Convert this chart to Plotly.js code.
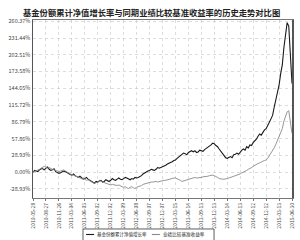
<!DOCTYPE html>
<html><head><meta charset="utf-8">
<script src="https://cdn.plot.ly/plotly-3.0.1.min.js"></script>
<style>html,body{margin:0;padding:0;background:#fff}#c{width:300px;height:240px}</style>
</head><body><div id="c"></div>
<script>
const chartTitle = "基金份额累计净值增长率与同期业绩比较基准收益率的历史走势对比图";
const tickLabels = ["2010-05-28","2010-08-27","2010-11-26","2011-03-04","2011-06-03","2011-09-02","2011-12-02","2012-03-09","2012-06-08","2012-09-07","2012-12-07","2013-03-15","2013-06-14","2013-09-13","2013-12-13","2014-03-14","2014-06-13","2014-09-12","2014-12-12","2015-03-13","2015-06-30"];
const fundGrowth = [0,3,2,1,4,6,6,4,7,9,5,3,4,6,1,0,-2,-1,0,2,1,-1,-2,-4,-5,-3,-6,-8,-9,-7,-10,-12,-11,-9,-12,-14,-16,-17,-19,-16,-17,-15,-14,-17,-16,-13,-15,-16,-14,-11,-13,-14,-12,-10,-12,-13,-11,-9,-10,-12,-13,-11,-12,-9,-10,-9,-8,-6,-3,-1,1,2,3,5,4,3,5,8,7,8,10,11,12,14,15,17,18,20,21,24,26,28,30,33,32,30,34,36,37,35,37,34,35,38,37,36,39,41,42,45,47,50,49,46,44,40,36,31,28,25,24,26,27,25,30,31,33,31,35,38,40,38,44,42,47,46,51,54,57,62,66,64,70,73,75,82,86,92,98,112,125,138,150,170,185,215,238,258,252,200,153];
const benchmark = [0,1,2,4,5,7,8,10,9,7,8,6,5,4,3,1,1,2,3,4,2,0,-2,-3,-4,-5,-6,-7,-8,-10,-11,-10,-12,-14,-13,-15,-17,-18,-19,-18,-17,-15,-15,-17,-18,-19,-20,-21,-22,-21,-22,-23,-23,-22,-24,-25,-26,-25,-27,-28,-26,-25,-27,-28,-26,-25,-25,-23,-21,-20,-19,-18,-18,-17,-17,-16,-16,-17,-16,-15,-15,-14,-14,-13,-12,-12,-11,-10,-10,-11,-12,-14,-16,-15,-14,-13,-12,-11,-10,-9,-9,-10,-10,-10,-9,-8,-8,-7,-7,-6,-5,-5,-6,-7,-9,-11,-12,-12,-12,-12,-11,-10,-9,-9,-8,-7,-6,-4,-3,-1,0,2,3,5,6,8,10,12,14,15,16,18,19,20,21,24,28,32,36,42,48,54,60,67,75,88,98,104,106,90,67];
const yTicks = [-28.93,0,28.93,57.86,86.79,115.72,144.65,173.58,202.51,231.44,260.37];
const names = ["基金份额累计净值增长率","业绩比较基准收益率"];
const colors = ['#1a1a1a', '#8a8a8a'];

const idx = fundGrowth.map((_, i) => i);
const step = (fundGrowth.length - 1) / (tickLabels.length - 1);
const tickvals = tickLabels.map((_, i) => i * step);

const traces = [
  {x: idx, y: fundGrowth, type: 'scatter', mode: 'lines', name: names[0], line: {color: colors[0], width: 1.1}},
  {x: idx, y: benchmark, type: 'scatter', mode: 'lines', name: names[1], line: {color: colors[1], width: 0.9}}
];

const legY = -0.205;
const shapes = [
  {type: 'rect', xref: 'paper', yref: 'paper', x0: 0.193, x1: 0.699, y0: -0.174, y1: -0.245, line: {color: '#333', width: 0.8}, fillcolor: '#fff'},
  {type: 'line', xref: 'paper', yref: 'paper', x0: 0.205, x1: 0.236, y0: legY, y1: legY, line: {color: colors[0], width: 1.1}},
  {type: 'line', xref: 'paper', yref: 'paper', x0: 0.459, x1: 0.490, y0: legY, y1: legY, line: {color: colors[1], width: 1.1}}
];
const annotations = [
  {xref: 'paper', yref: 'paper', x: 0.456, y: 1.045, xanchor: 'center', yanchor: 'middle', text: '<b>' + chartTitle + '</b>', showarrow: false, font: {size: 8.3, color: '#222'}},
  {xref: 'paper', yref: 'paper', x: 0.238, y: legY, xanchor: 'left', yanchor: 'middle', text: names[0], showarrow: false, font: {size: 4.5, color: '#222'}},
  {xref: 'paper', yref: 'paper', x: 0.494, y: legY, xanchor: 'left', yanchor: 'middle', text: names[1], showarrow: false, font: {size: 4.6, color: '#222'}}
];

const layout = {
  width: 300, height: 240,
  margin: {l: 33, r: 8, t: 20, b: 42, autoexpand: false},
  paper_bgcolor: '#fff', plot_bgcolor: '#fff',
  font: {family: '"Noto Sans CJK SC", "Noto Sans", sans-serif', color: '#333'},
  xaxis: {range: [0, fundGrowth.length - 1], tickvals: tickvals, ticktext: tickLabels, tickangle: -90, tickfont: {size: 5, color: '#444'},
          showline: true, mirror: true, linecolor: '#777', linewidth: 1, showgrid: true, gridcolor: '#bbb', gridwidth: 0.5, griddash: 'dot',
          ticks: 'outside', ticklen: 2, tickcolor: '#777', zeroline: false, fixedrange: true, automargin: false, ticklabeloverflow: 'allow'},
  yaxis: {range: [-44.5, 262.5], tickvals: yTicks, ticktext: yTicks.map(v => v.toFixed(2) + '%'), tickfont: {size: 5.5, color: '#444'},
          showline: true, mirror: true, linecolor: '#555', linewidth: 1.5, showgrid: true, gridcolor: '#bbb', gridwidth: 0.5, griddash: 'dot',
          ticks: '', zeroline: false, fixedrange: true, automargin: false, ticklabeloverflow: 'allow'},
  showlegend: false,
  shapes: shapes,
  annotations: annotations
};
Plotly.newPlot('c', traces, layout, {staticPlot: true, displayModeBar: false});
</script>
</body></html>
